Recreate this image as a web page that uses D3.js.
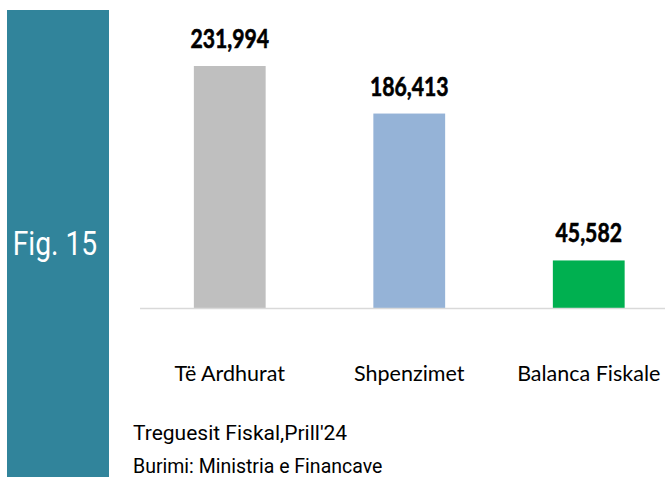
<!DOCTYPE html>
<html>
<head>
<meta charset="utf-8">
<script src="https://cdn.jsdelivr.net/npm/d3@7"></script>
<style>
  body { margin: 0; background: #fff; }
  svg { display: block; }
</style>
</head>
<body>
<svg id="chart"></svg>
<script>
// data
var categories = ["Të Ardhurat", "Shpenzimet", "Balanca Fiskale"];
var values = [231994, 186413, 45582];
var barColors = ["#BFBFBF", "#95B3D7", "#00B050"];
var figLabel = "Fig. 15";
var notes = ["Treguesit Fiskal,Prill'24", "Burimi: Ministria e Financave"];

var W = 665, H = 477;
var svg = d3.select("#chart").attr("width", W).attr("height", H);

// side panel
svg.append("rect")
    .attr("x", 7).attr("y", 10)
    .attr("width", 102).attr("height", H - 10)
    .attr("fill", "#31849B");

svg.append("text")
    .attr("transform", "translate(55,255) scale(0.83,1)")
    .attr("text-anchor", "middle")
    .attr("fill", "#fff")
    .style("font-family", "Roboto, sans-serif")
    .style("font-size", "34px")
    .text(figLabel);

// scales
var baseline = 308;
var x = d3.scaleBand()
    .domain(categories)
    .range([140, 678.5])
    .paddingInner(0.6)
    .paddingOuter(0.3);

var y = d3.scaleLinear()
    .domain([0, 231994])
    .range([baseline, 66]);

// bars
svg.selectAll("rect.bar")
    .data(categories)
    .enter()
    .append("rect")
    .attr("class", "bar")
    .attr("x", (d) => x(d))
    .attr("y", (d, i) => y(values[i]))
    .attr("width", x.bandwidth())
    .attr("height", (d, i) => baseline - y(values[i]))
    .attr("fill", (d, i) => barColors[i]);

// axis line
svg.append("line")
    .attr("x1", 140).attr("x2", W)
    .attr("y1", baseline + 0.5).attr("y2", baseline + 0.5)
    .attr("stroke", "#D9D9D9")
    .attr("stroke-width", 1.5);

// value labels (condensed like the original Calibri)
var fmt = d3.format(",");
svg.selectAll("text.value")
    .data(categories)
    .enter()
    .append("text")
    .attr("class", "value")
    .attr("transform", (d, i) =>
        "translate(" + (x(d) + x.bandwidth() / 2) + "," + (y(values[i]) - 18) + ") scale(0.8,1)")
    .attr("text-anchor", "middle")
    .attr("stroke", "#000")
    .attr("stroke-width", 0.6)
    .style("font-family", "Lato, sans-serif")
    .style("font-weight", "bold")
    .style("font-size", "26.5px")
    .text((d, i) => fmt(values[i]));

// category labels
svg.selectAll("text.cat")
    .data(categories)
    .enter()
    .append("text")
    .attr("class", "cat")
    .attr("x", (d) => x(d) + x.bandwidth() / 2)
    .attr("y", 381)
    .attr("text-anchor", "middle")
    .style("font-family", "Lato, sans-serif")
    .style("font-size", "21.5px")
    .text((d) => d);

// notes
svg.append("text")
    .attr("x", 133).attr("y", 440)
    .style("font-family", "Roboto, sans-serif")
    .style("font-size", "21px")
    .text(notes[0]);

svg.append("text")
    .attr("x", 133).attr("y", 473)
    .style("font-family", "Roboto, sans-serif")
    .style("font-size", "19.5px")
    .text(notes[1]);
</script>
</body>
</html>
